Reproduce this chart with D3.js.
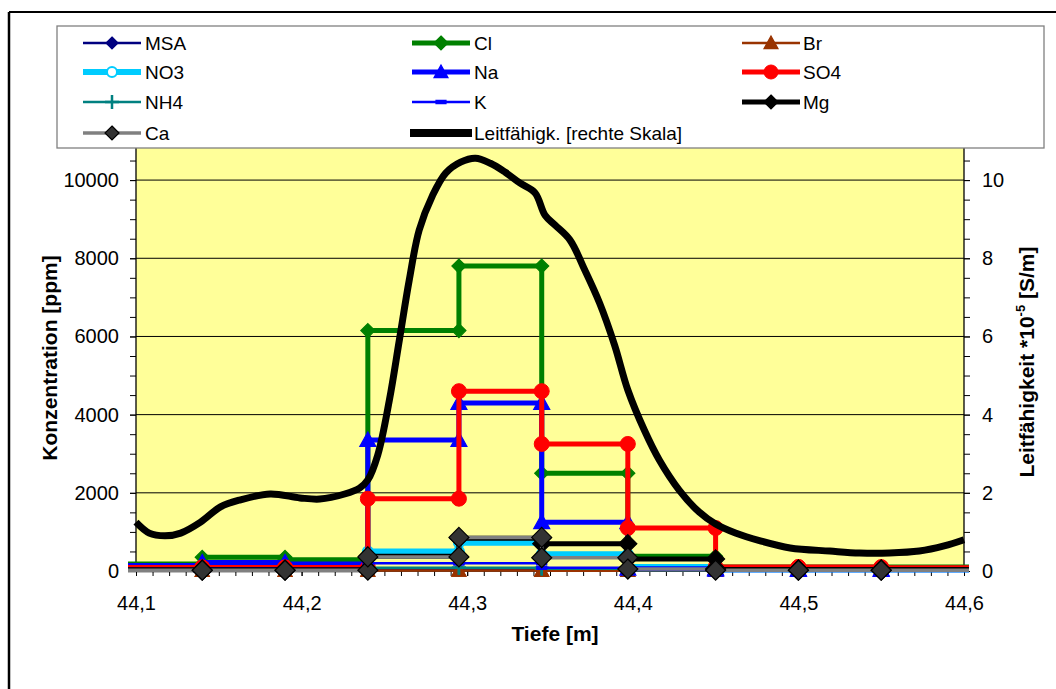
<!DOCTYPE html>
<html><head><meta charset="utf-8">
<script src="https://cdn.jsdelivr.net/npm/d3@7"></script>
<style>
html,body{margin:0;padding:0;background:#fff;}
svg{display:block;font-family:"Liberation Sans",Arial,sans-serif;}
</style></head>
<body>
<svg id="chart" width="1056" height="689"></svg>
<script>
// ---------- data ----------
const depthBounds = [44.08, 44.14, 44.19, 44.24, 44.295, 44.345, 44.397, 44.45, 44.5, 44.55, 44.65];
const MSA = [10, 10, 10, 30, 30, 20, 10, 10, 10, 10];
const Cl  = [180, 350, 290, 6150, 7800, 2500, 380, 100, 100, 100];
const Br  = [5, 5, 5, 10, 10, 5, 5, 5, 5, 5];
const NO3 = [50, 60, 60, 500, 720, 430, 100, 40, 40, 40];
const Na  = [140, 220, 180, 3350, 4300, 1250, 60, 30, 30, 30];
const SO4 = [90, 90, 90, 1850, 4600, 3250, 1100, 100, 100, 80];
const NH4 = [20, 20, 20, 80, 80, 60, 20, 10, 10, 10];
const K   = [60, 70, 60, 200, 200, 80, 30, 20, 20, 20];
const Mg  = [30, 30, 30, 380, 840, 700, 310, 40, 40, 40];
const Ca  = [20, 20, 20, 360, 860, 340, 50, 20, 20, 20];

const condDepth = [44.100, 44.108, 44.1175, 44.127, 44.139, 44.151, 44.163, 44.181, 44.199, 44.211, 44.226, 44.235, 44.240, 44.246, 44.253, 44.259, 44.265, 44.271, 44.279, 44.287, 44.296, 44.305, 44.314, 44.323, 44.332, 44.341, 44.347, 44.353, 44.362, 44.371, 44.380, 44.389, 44.397, 44.407, 44.416, 44.428, 44.440, 44.450, 44.462, 44.477, 44.495, 44.519, 44.537, 44.555, 44.573, 44.588, 44.600];
const condValue = [1.25, 0.97, 0.90, 0.97, 1.25, 1.64, 1.82, 1.97, 1.87, 1.84, 1.97, 2.12, 2.33, 2.97, 4.37, 5.90, 7.44, 8.72, 9.60, 10.18, 10.46, 10.56, 10.43, 10.20, 9.92, 9.67, 9.10, 8.85, 8.47, 7.70, 6.85, 5.78, 4.63, 3.60, 2.84, 2.07, 1.51, 1.20, 0.97, 0.77, 0.59, 0.51, 0.46, 0.46, 0.51, 0.64, 0.80];

const xTicks = [44.1, 44.2, 44.3, 44.4, 44.5, 44.6];
const yTicks = [0, 2000, 4000, 6000, 8000, 10000];
const yRTicks = [0, 2, 4, 6, 8, 10];

const seriesNames = ["MSA", "Cl", "Br", "NO3", "Na", "SO4", "NH4", "K", "Mg", "Ca"];
const seriesValues = [MSA, Cl, Br, NO3, Na, SO4, NH4, K, Mg, Ca];

// ---------- styles ----------
const styles = {
  MSA: {color: "#000080", width: 2.5, marker: "diamond", size: 6, fill: "#000080", stroke: "#000080"},
  Cl:  {color: "#008000", width: 5, marker: "diamond", size: 7, fill: "#008000", stroke: "#008000"},
  Br:  {color: "#993300", width: 2.5, marker: "triangle", size: 7, fill: "#993300", stroke: "#993300"},
  NO3: {color: "#00CCFF", width: 6, marker: "circleOpen", size: 5, fill: "none", stroke: "#00CCFF"},
  Na:  {color: "#0000FF", width: 5, marker: "triangle", size: 8, fill: "#0000FF", stroke: "#0000FF"},
  SO4: {color: "#FF0000", width: 5, marker: "circle", size: 7.5, fill: "#FF0000", stroke: "#FF0000"},
  NH4: {color: "#008080", width: 2.5, marker: "plus", size: 7, fill: "none", stroke: "#008080"},
  K:   {color: "#0000FF", width: 2.5, marker: "dash", size: 5, fill: "#0000FF", stroke: "#0000FF"},
  Mg:  {color: "#000000", width: 5, marker: "diamond", size: 9, fill: "#000000", stroke: "#000000"},
  Ca:  {color: "#808080", width: 3.5, marker: "diamond", size: 10, fill: "#333333", stroke: "#000000"}
};

// ---------- layout ----------
const svg = d3.select("#chart");
const L = 136, R = 964, B = 571, T = 141;
const x = d3.scaleLinear().domain([44.1, 44.6]).range([L, R]);
const y = d3.scaleLinear().domain([0, 11000]).range([B, T]);
const yR = d3.scaleLinear().domain([0, 11]).range([B, T]);

// outer border (top and left visible)
svg.append("line").attr("x1", 9).attr("x2", 1056).attr("y1", 12).attr("y2", 12).attr("stroke", "#000").attr("stroke-width", 2);
svg.append("line").attr("x1", 9).attr("x2", 9).attr("y1", 12).attr("y2", 689).attr("stroke", "#000").attr("stroke-width", 2.5);

// plot background
svg.append("rect").attr("x", L).attr("y", T).attr("width", R - L).attr("height", B - T).attr("fill", "#FFFF99");

// gridlines
svg.append("g").selectAll("line").data(yTicks.filter(d => d > 0)).join("line")
  .attr("x1", L).attr("x2", R).attr("y1", d => y(d)).attr("y2", d => y(d))
  .attr("stroke", "#000").attr("stroke-width", 1);

// axes
const fontTick = 20;
function minorRange(a, b, s) { const out = []; for (let v = a; v <= b + 1e-9; v += s) out.push(+v.toFixed(4)); return out; }

const gL = svg.append("g").attr("transform", `translate(${L},0)`);
gL.call(d3.axisLeft(y).tickValues(minorRange(0, 10500, 500)).tickSize(6).tickFormat(""));
gL.call(g => g.select(".domain").remove());
const gL2 = svg.append("g").attr("transform", `translate(${L},0)`)
  .call(d3.axisLeft(y).tickValues(yTicks).tickSize(6).tickPadding(11).tickFormat(d3.format("d")));
gL2.select(".domain").attr("d", `M0,${T}V${B}`);

const gR = svg.append("g").attr("transform", `translate(${R},0)`);
gR.call(d3.axisRight(yR).tickValues(minorRange(0, 10.5, 0.5)).tickSize(6).tickFormat(""));
gR.call(g => g.select(".domain").remove());
const gR2 = svg.append("g").attr("transform", `translate(${R},0)`)
  .call(d3.axisRight(yR).tickValues(yRTicks).tickSize(6).tickPadding(12).tickFormat(d3.format("d")));
gR2.select(".domain").attr("d", `M0,${T}V${B}`);

const gB = svg.append("g").attr("transform", `translate(0,${B})`);
gB.call(d3.axisBottom(x).tickValues(minorRange(44.1, 44.6, 0.01)).tickSize(5).tickFormat(""));
gB.call(g => g.select(".domain").remove());
const gB2 = svg.append("g").attr("transform", `translate(0,${B})`)
  .call(d3.axisBottom(x).tickValues(xTicks).tickSize(5).tickPadding(20).tickFormat(d => d.toFixed(1).replace(".", ",")));
gB2.select(".domain").attr("d", `M${L},0H${R}`);

svg.selectAll(".tick line").attr("stroke", "#000");
svg.selectAll(".domain").attr("stroke", "#000").attr("stroke-width", 1.3);
svg.selectAll(".tick text").attr("font-size", fontTick).attr("fill", "#000")
  .attr("font-family", '"Liberation Sans",Arial,sans-serif');

// clip
svg.append("clipPath").attr("id", "clipX").append("rect")
  .attr("x", L - 8).attr("y", 0).attr("width", R - L + 13).attr("height", 689);

// marker drawing
function markerPath(type, s) {
  switch (type) {
    case "diamond": return `M0,${-s}L${s},0L0,${s}L${-s},0Z`;
    case "triangle": return `M0,${-s}L${s},${s * 0.8}L${-s},${s * 0.8}Z`;
    case "plus": return `M${-s},0H${s}M0,${-s}V${s}`;
    case "dash": return `M${-s},-1.6H${s}V1.6H${-s}Z`;
    default: return "";
  }
}
function drawMarker(g, st, cx, cy) {
  if (st.marker === "circle" || st.marker === "circleOpen") {
    g.append("circle").attr("cx", cx).attr("cy", cy).attr("r", st.size)
      .attr("fill", st.fill).attr("stroke", st.stroke).attr("stroke-width", st.marker === "circleOpen" ? 2 : 1);
  } else {
    g.append("path").attr("transform", `translate(${cx},${cy})`).attr("d", markerPath(st.marker, st.size))
      .attr("fill", st.fill).attr("stroke", st.stroke)
      .attr("stroke-width", st.marker === "plus" ? 2.5 : 1.2).attr("stroke-linejoin", "miter");
  }
}

const line = d3.line().x(d => x(d[0])).y(d => y(d[1]));
const plotG = svg.append("g");
seriesNames.forEach((name, si) => {
  const vals = seriesValues[si];
  const pts = [];
  vals.forEach((v, i) => { pts.push([depthBounds[i], v]); pts.push([depthBounds[i + 1], v]); });
  const st = styles[name];
  const g = plotG.append("g");
  g.append("path").attr("d", line(pts)).attr("fill", "none").attr("stroke", st.color)
    .attr("stroke-width", st.width).attr("clip-path", "url(#clipX)").attr("stroke-linejoin", "miter");
  pts.filter(p => p[0] >= 44.1 && p[0] <= 44.6).forEach(p => drawMarker(g, st, x(p[0]), y(p[1])));
});

// conductivity on right scale
const condLine = d3.line().x((d, i) => x(condDepth[i])).y(d => yR(d)).curve(d3.curveCatmullRom.alpha(0.5));
svg.append("path").attr("d", condLine(condValue)).attr("fill", "none").attr("stroke", "#000")
  .attr("stroke-width", 7).attr("stroke-linejoin", "round");

// axis titles
svg.append("text").attr("transform", "translate(57,358) rotate(-90)").attr("text-anchor", "middle")
  .attr("font-weight", "bold").attr("font-size", 21).text("Konzentration [ppm]");
const rt = svg.append("text").attr("transform", "translate(1034,362) rotate(-90)").attr("text-anchor", "middle")
  .attr("font-weight", "bold").attr("font-size", 21);
rt.append("tspan").text("Leitfähigkeit *10");
rt.append("tspan").attr("dy", -9).attr("font-size", 13).text("-5");
rt.append("tspan").attr("dy", 9).text(" [S/m]");
svg.append("text").attr("x", 555).attr("y", 641).attr("text-anchor", "middle")
  .attr("font-weight", "bold").attr("font-size", 21).text("Tiefe [m]");

// legend
const lg = svg.append("g");
lg.append("rect").attr("x", 57).attr("y", 26).attr("width", 987).attr("height", 122)
  .attr("fill", "#fff").attr("stroke", "#808080").attr("stroke-width", 1.3);
const colLineX = [83, 412, 742];
const colTextX = [145, 474, 803];
const rowY = [43, 72, 102, 133];
const legendItems = seriesNames.concat(["Leitfähigk. [rechte Skala]"]);
legendItems.forEach((name, i) => {
  const col = i % 3, row = Math.floor(i / 3);
  const yy = rowY[row];
  const x0 = colLineX[col], x1 = x0 + 58;
  const g = lg.append("g");
  if (i < seriesNames.length) {
    const st = styles[name];
    g.append("line").attr("x1", x0).attr("x2", x1).attr("y1", yy).attr("y2", yy)
      .attr("stroke", st.color).attr("stroke-width", st.width);
    const ls = Object.assign({}, st, {size: Math.min(st.size, 7)});
    if (ls.marker === "circleOpen") ls.fill = "#fff";
    drawMarker(g, ls, (x0 + x1) / 2, yy);
  } else {
    g.append("line").attr("x1", x0 - 2).attr("x2", x1 + 2).attr("y1", yy).attr("y2", yy)
      .attr("stroke", "#000").attr("stroke-width", 8);
  }
  g.append("text").attr("x", colTextX[col]).attr("y", yy + 7).attr("font-size", 19).text(name);
});
</script>
</body></html>
